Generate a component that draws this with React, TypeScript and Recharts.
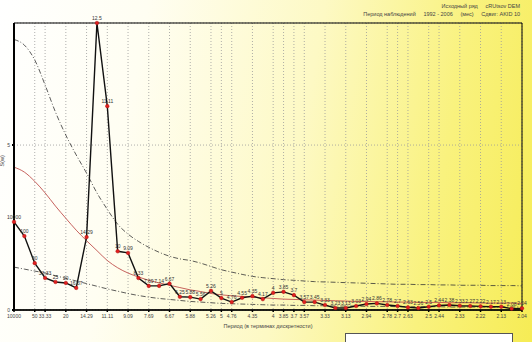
import {
	ComposedChart,
	Line,
	XAxis,
	YAxis,
	CartesianGrid,
	ReferenceArea,
	LabelList,
} from "recharts";

// period labels (N / k), index 0 is the zero-frequency placeholder
const periods = [
	"10000", "100", "50", "33.33", "25", "20", "16.67", "14.29", "12.5", "11.11",
	"10", "9.09", "8.33", "7.69", "7.14", "6.67", "6.25", "5.88", "5.56", "5.26",
	"5", "4.76", "4.55", "4.35", "4.17", "4", "3.85", "3.7", "3.57", "3.45",
	"3.33", "3.23", "3.13", "3.03", "2.94", "2.86", "2.78", "2.7", "2.63", "2.56",
	"2.5", "2.44", "2.38", "2.33", "2.27", "2.22", "2.17", "2.13", "2.08", "2.04",
];

const spectrum = [
	2.67, 2.24, 1.42, 0.97, 0.85, 0.82, 0.67, 2.21, 8.7, 6.18,
	1.78, 1.73, 0.97, 0.73, 0.73, 0.8, 0.4, 0.39, 0.33, 0.58,
	0.36, 0.24, 0.37, 0.42, 0.33, 0.52, 0.55, 0.45, 0.24, 0.24,
	0.15, 0.06, 0.06, 0.12, 0.18, 0.2, 0.15, 0.12, 0.08, 0.06,
	0.1, 0.14, 0.15, 0.13, 0.12, 0.11, 0.1, 0.1, 0.04, 0.05,
];

const redNoise = [
	4.33, 4.18, 3.9, 3.55, 3.15, 2.78, 2.42, 2.1, 1.8, 1.5,
	1.28, 1.12, 1.0, 0.9, 0.82, 0.75, 0.68, 0.61, 0.56, 0.5,
	0.46, 0.43, 0.41, 0.39, 0.37, 0.35, 0.33, 0.32, 0.31, 0.3,
	0.29, 0.28, 0.27, 0.26, 0.26, 0.25, 0.25, 0.24, 0.24, 0.23,
	0.23, 0.23, 0.22, 0.22, 0.22, 0.21, 0.21, 0.21, 0.21, 0.2,
];

const upperBound = [
	8.2, 8.03, 7.58, 6.82, 6.0, 5.3, 4.7, 4.15, 3.55, 3.05,
	2.6, 2.3, 2.08, 1.9, 1.75, 1.63, 1.55, 1.5, 1.42, 1.32,
	1.22, 1.15, 1.08, 1.02, 0.98, 0.95, 0.92, 0.9, 0.88, 0.86,
	0.85, 0.84, 0.83, 0.82, 0.81, 0.8, 0.79, 0.78, 0.78, 0.77,
	0.77, 0.76, 0.76, 0.75, 0.75, 0.75, 0.74, 0.74, 0.74, 0.73,
];

const lowerBound = [
	1.3, 1.24, 1.18, 1.12, 1.04, 0.96, 0.88, 0.8, 0.72, 0.64,
	0.57, 0.5, 0.44, 0.39, 0.35, 0.32, 0.29, 0.26, 0.24, 0.22,
	0.2, 0.19, 0.18, 0.17, 0.16, 0.15, 0.15, 0.14, 0.14, 0.13,
	0.13, 0.12, 0.12, 0.12, 0.11, 0.11, 0.11, 0.1, 0.1, 0.1,
	0.1, 0.1, 0.09, 0.09, 0.09, 0.09, 0.09, 0.09, 0.09, 0.09,
];

const xTicks = [
	0, 2, 3, 5, 7, 9, 11, 13, 15, 17, 19, 20, 21, 23, 25, 26, 27, 28, 30, 32,
	34, 36, 37, 38, 40, 41, 43, 45, 47, 49,
];

const yTicks = [0, 5];
const yMax = 8.7;

const data = spectrum.map((v, i) => ({
	i,
	period: periods[i],
	s: v,
	red: redNoise[i],
	hi: upperBound[i],
	lo: lowerBound[i],
}));

const font = "'Liberation Sans', Arial, sans-serif";

export default function App() {
	return (
		<div
			style={{
				position: "absolute",
				left: 0,
				top: 0,
				width: 532,
				height: 342,
				overflow: "hidden",
				fontFamily: font,
				background:
					"linear-gradient(100deg, #ffffff 0%, #fffef2 25%, #fdf9c4 55%, #f9f27e 80%, #f6ec55 100%)",
			}}
		>
			<div
				style={{
					position: "absolute",
					left: 330,
					top: 2,
					width: 190,
					fontSize: 5.5,
					color: "#444",
					lineHeight: "8px",
					textAlign: "right",
					whiteSpace: "pre",
				}}
			>
				{"Исходный ряд     cRUtsov DEM\nПериод наблюдений     1992 - 2006     (мес)     Сдвиг: AKID 10"}
			</div>

			<ComposedChart
				width={532}
				height={342}
				data={data}
				margin={{ top: 23, right: 10, bottom: 12, left: 0 }}
			>
				<CartesianGrid
					stroke='#9a9a9a'
					strokeDasharray='1 2'
					strokeWidth={0.8}
				/>
				<XAxis
					dataKey='i'
					type='number'
					domain={[0, 49]}
					ticks={xTicks}
					interval={0}
					tickFormatter={(v) => periods[v]}
					tick={{ fontSize: 5, fill: "#444", fontFamily: font }}
					tickSize={2}
					height={20}
					stroke='#000'
					strokeWidth={1.5}
					label={{
						value: "Период      (в терминах дискретности)",
						position: "insideBottom",
						offset: 2,
						fontSize: 5.5,
						fill: "#444",
						fontFamily: font,
					}}
				/>
				<YAxis
					type='number'
					domain={[0, yMax]}
					ticks={yTicks}
					width={14}
					tick={{ fontSize: 5, fill: "#444", fontFamily: font }}
					tickSize={2}
					stroke='#000'
					strokeWidth={2}
					label={{
						value: "S(w)",
						angle: -90,
						position: "insideLeft",
						offset: 2,
						fontSize: 5.5,
						fill: "#444",
						fontFamily: font,
					}}
				/>
				<ReferenceArea
					x1={0}
					x2={49}
					y1={0}
					y2={yMax}
					fill='none'
					stroke='#000'
					strokeWidth={1}
					ifOverflow='visible'
				/>
				<Line
					type='monotone'
					dataKey='hi'
					stroke='#333'
					strokeWidth={0.8}
					strokeDasharray='5 2 1 2'
					dot={false}
					isAnimationActive={false}
				/>
				<Line
					type='monotone'
					dataKey='lo'
					stroke='#333'
					strokeWidth={0.8}
					strokeDasharray='5 2 1 2'
					dot={false}
					isAnimationActive={false}
				/>
				<Line
					type='monotone'
					dataKey='red'
					stroke='#c0504d'
					strokeWidth={0.9}
					dot={false}
					isAnimationActive={false}
				/>
				<Line
					type='linear'
					dataKey='s'
					stroke='#111'
					strokeWidth={1.4}
					dot={{ r: 1.8, fill: "#e02020", stroke: "#b01010", strokeWidth: 0.5 }}
					isAnimationActive={false}
				>
					<LabelList
						dataKey='period'
						position='top'
						offset={3}
						style={{ fontSize: 5, fill: "#333", fontFamily: font }}
					/>
				</Line>
			</ComposedChart>

			<div
				style={{
					position: "absolute",
					left: 345,
					top: 333,
					width: 166,
					height: 14,
					background: "#fff",
					border: "1px solid #555",
				}}
			/>
		</div>
	);
}
